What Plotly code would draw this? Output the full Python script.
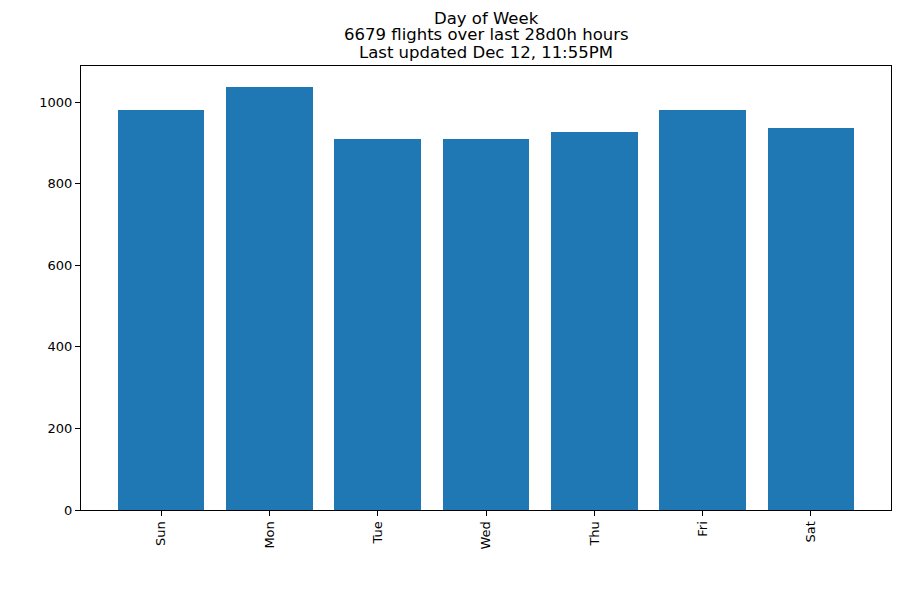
import plotly.graph_objects as go

days = ["Sun", "Mon", "Tue", "Wed", "Thu", "Fri", "Sat"]
counts = [980, 1037, 909, 909, 926, 981, 937]
y_ticks = [0, 200, 400, 600, 800, 1000]

title_lines = ["Day of Week", "6679 flights over last 28d0h hours", "Last updated Dec 12, 11:55PM"]

L, R, T, B = 81, 9, 66, 90
W, H = 900, 600
ph = H - T - B

fig = go.Figure(go.Bar(x=list(range(len(days))), y=counts, width=0.8,
                       marker=dict(color="#1f77b4", line=dict(width=0))))

line_mid = [18, 35, 52]
annots = []
for txt, ym in zip(title_lines, line_mid):
    annots.append(dict(text=txt, xref="paper", yref="paper", x=0.5, xanchor="center",
                       y=1 + (T - ym) / ph, yanchor="middle", showarrow=False,
                       font=dict(family="DejaVu Sans", size=16.5, color="black")))

fig.update_layout(
    width=W, height=H,
    margin=dict(l=L, r=R, t=T, b=B),
    paper_bgcolor="white", plot_bgcolor="white",
    font=dict(family="DejaVu Sans", size=13, color="black"),
    annotations=annots,
    showlegend=False,
    bargap=0,
)
fig.update_xaxes(range=[-0.74, 6.74], tickmode="array", tickvals=list(range(len(days))), ticktext=days,
                 tickangle=-90, ticks="outside", ticklen=5, tickcolor="black", showline=True, linecolor="black",
                 mirror=True, showgrid=False, zeroline=False, tickfont=dict(size=13))
fig.update_yaxes(range=[0, 1089], tickmode="array", tickvals=y_ticks, ticks="outside", ticklen=5, tickcolor="black",
                 showline=True, linecolor="black", mirror=True, showgrid=False, zeroline=False, tickfont=dict(size=13))

fig.write_html("out.html", config={"displayModeBar": False},
               post_script="document.body.style.margin='0';")
